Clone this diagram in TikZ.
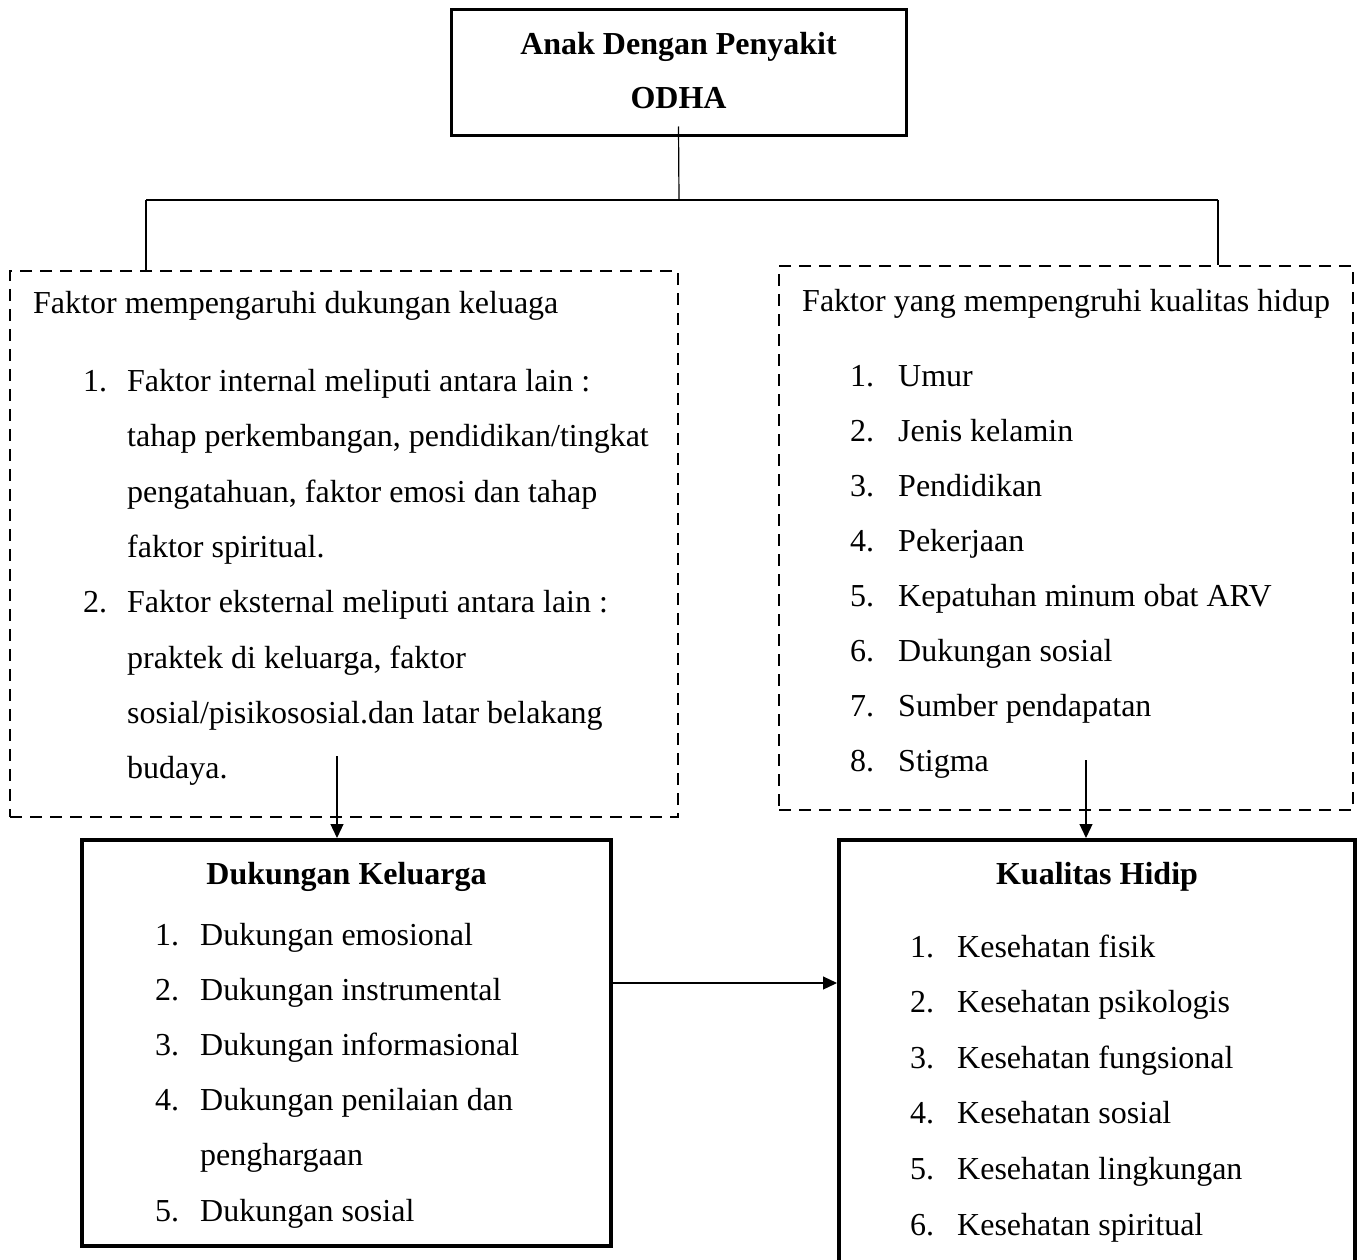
\documentclass[tikz,border=0pt]{standalone}
\usepackage{fontspec}
\setmainfont{Liberation Serif}
\usetikzlibrary{arrows.meta}
\begin{document}
\begin{tikzpicture}[x=1pt,y=-1pt,
  txt/.style={anchor=base west, inner sep=0pt, font=\fontsize{32}{38}\selectfont},
  ttl/.style={anchor=base, inner sep=0pt, font=\fontsize{32}{38}\selectfont\bfseries},
  solidbox/.style={draw, line width=4pt, inner sep=0pt},
  dashbox/.style={draw, line width=2.5pt, dash pattern=on 12pt off 8pt, inner sep=0pt},
  conn/.style={line width=1.2pt},
  arr/.style={line width=1.2pt, -{Triangle[length=14pt,width=13pt]}}]
\clip (0,0) rectangle (1360,1260);
\fill[white] (0,0) rectangle (1360,1260);

% boxes
\node[solidbox, line width=3pt, minimum width=455pt, minimum height=126pt] (top) at (678.5,73) {};
\node[dashbox, minimum width=668pt, minimum height=546pt] (fl) at (344,544) {};
\node[dashbox, minimum width=574pt, minimum height=544pt] (fr) at (1066,538) {};
\node[solidbox, minimum width=529pt, minimum height=406pt] (dk) at (346.5,1043) {};
\node[solidbox, minimum width=516pt, minimum height=450pt] (kh) at (1097,1065) {};

% top title
\node[ttl] (t1) at (678.5,55) {Anak Dengan Penyakit};
\node[ttl] (t2) at (678.5,109) {ODHA};

% left dashed box
\node[txt] (lh) at (33,313) {Faktor mempengaruhi dukungan keluaga};
\node[txt] (ln1) at (83,391.5) {1.};
\node[txt] (l1a) at (127,391.5) {Faktor internal meliputi antara lain :};
\node[txt] (l1b) at (127,446.8) {tahap perkembangan, pendidikan/tingkat};
\node[txt] (l1c) at (127,502.1) {pengatahuan, faktor emosi dan tahap};
\node[txt] (l1d) at (127,557.4) {faktor spiritual.};
\node[txt] (ln2) at (83,612.7) {2.};
\node[txt] (l2a) at (127,612.7) {Faktor eksternal meliputi antara lain :};
\node[txt] (l2b) at (127,668) {praktek di keluarga, faktor};
\node[txt] (l2c) at (127,723.3) {sosial/pisikososial.dan latar belakang};
\node[txt] (l2d) at (127,778.6) {budaya.};

% right dashed box
\node[txt] (rh) at (802,311) {Faktor yang mempengruhi kualitas hidup};
\foreach \n/\t [count=\i from 0] in {1/Umur,2/Jenis kelamin,3/Pendidikan,4/Pekerjaan,5/Kepatuhan minum obat ARV,6/Dukungan sosial,7/Sumber pendapatan,8/Stigma}{
  \node[txt] (rn\n) at (850,386+55.1*\i) {\n.};
  \node[txt] (rt\n) at (898,386+55.1*\i) {\t};
}

% Dukungan Keluarga
\node[ttl] (dkt) at (346.5,884) {Dukungan Keluarga};
\node[txt] (dn1) at (155,945) {1.};
\node[txt] (dt1) at (200,945) {Dukungan emosional};
\node[txt] (dn2) at (155,1000.2) {2.};
\node[txt] (dt2) at (200,1000.2) {Dukungan instrumental};
\node[txt] (dn3) at (155,1055.4) {3.};
\node[txt] (dt3) at (200,1055.4) {Dukungan informasional};
\node[txt] (dn4) at (155,1110.6) {4.};
\node[txt] (dt4) at (200,1110.6) {Dukungan penilaian dan};
\node[txt] (dt4b) at (200,1165.8) {penghargaan};
\node[txt] (dn5) at (155,1221) {5.};
\node[txt] (dt5) at (200,1221) {Dukungan sosial};

% Kualitas Hidip
\node[ttl] (kht) at (1097,884) {Kualitas Hidip};
\foreach \n/\t [count=\i from 0] in {1/Kesehatan fisik,2/Kesehatan psikologis,3/Kesehatan fungsional,4/Kesehatan sosial,5/Kesehatan lingkungan,6/Kesehatan spiritual}{
  \node[txt] (kn\n) at (910,957+55.6*\i) {\n.};
  \node[txt] (kt\n) at (957,957+55.6*\i) {\t};
}

% connectors
\coordinate (jn) at (679,200);
\coordinate (lx) at (146,0);
\coordinate (rx) at (1218,0);
\draw[conn] ([yshift=11pt]top.south) -- (jn);
\draw[conn] (lx |- jn) -- (rx |- jn);
\draw[conn] (lx |- jn) -- (lx |- fl.north);
\draw[conn] (rx |- jn) -- (rx |- fr.north);
\coordinate (la) at (337,756);
\draw[arr] (la) -- (la |- dk.north);
\coordinate (ra) at (1086,760);
\draw[arr] (ra) -- (ra |- kh.north);
\coordinate (ha) at (0,983);
\draw[arr] (dk.east |- ha) -- (kh.west |- ha);
\end{tikzpicture}
\end{document}
